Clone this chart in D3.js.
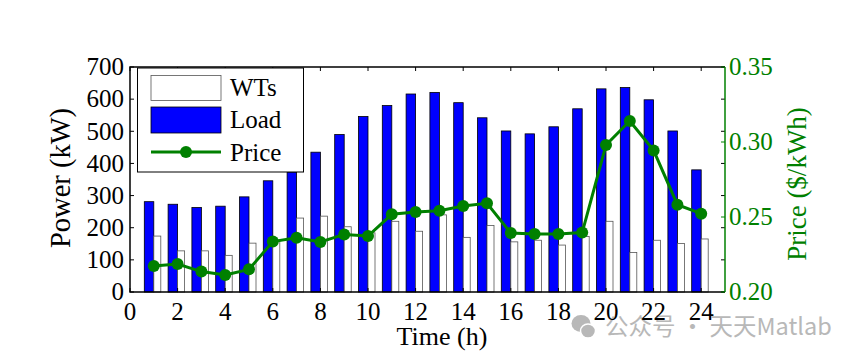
<!DOCTYPE html>
<html>
<head>
<meta charset="utf-8">
<script src="https://cdn.jsdelivr.net/npm/d3@7"></script>
<style>
  body { margin: 0; background: #fff; }
  svg text { font-family: "Liberation Serif", "Times New Roman", serif; }
</style>
</head>
<body>
<div id="chart"></div>
<script>
const hours = [1,2,3,4,5,6,7,8,9,10,11,12,13,14,15,16,17,18,19,20,21,22,23,24];
const load = [281,273,263,267,296,346,373,435,490,546,580,616,621,589,542,501,492,514,570,632,636,598,501,380];
const wts = [174,128,128,114,152,160,230,236,203,184,220,189,240,170,207,156,161,146,173,220,123,161,151,165];
const price = [0.2173,0.2187,0.2136,0.2113,0.2151,0.2336,0.2362,0.2333,0.2384,0.2373,0.2518,0.2533,
               0.2542,0.2573,0.2591,0.2393,0.2387,0.2387,0.2396,0.2980,0.3140,0.2944,0.2582,0.2522];
const xTicks = [0,2,4,6,8,10,12,14,16,18,20,22,24];
const yTicks = [0,100,200,300,400,500,600,700];
const pTicks = [0.20,0.25,0.30,0.35];

const W = 856, H = 361;
const pL = 130, pR = 725, pT = 67, pB = 292;
const green = '#008000';

function draw() {
  const svg = d3.select('#chart').append('svg')
    .attr('width', W)
    .attr('height', H);

  const x = d3.scaleLinear().domain([0, 25]).range([pL, pR]);
  const y = d3.scaleLinear().domain([0, 700]).range([pB, pT]);
  const yp = d3.scaleLinear().domain([0.20, 0.35]).range([pB, pT]);

  // watermark (under the tick labels)
  const wm = svg.append('g').attr('fill', '#b8b8b8');
  wm.append('ellipse').attr('cx', 581).attr('cy', 323.5).attr('rx', 9.5).attr('ry', 8.5);
  wm.append('ellipse').attr('cx', 588).attr('cy', 331).attr('rx', 7.5).attr('ry', 7)
    .attr('stroke', '#fff').attr('stroke-width', 1.5);
  wm.append('text').attr('x', 605).attr('y', 335)
    .style('font-family', '"Noto Sans CJK SC", "Noto Sans", sans-serif')
    .attr('font-size', 23.5)
    .text('公众号 · 天天Matlab');

  // bars
  svg.selectAll('rect.load').data(hours).join('rect')
     .attr('class', 'load')
     .attr('x', (d) => x(d) - 9.5)
     .attr('y', (d, i) => y(load[i]))
     .attr('width', 9.5)
     .attr('height', (d, i) => pB - y(load[i]))
     .attr('fill', '#0000ff')
     .attr('stroke', '#000')
     .attr('stroke-width', 0.8);

  svg.selectAll('rect.wts').data(hours).join('rect')
     .attr('class', 'wts')
     .attr('x', (d) => x(d))
     .attr('y', (d, i) => y(wts[i]))
     .attr('width', 7)
     .attr('height', (d, i) => pB - y(wts[i]))
     .attr('fill', '#fff')
     .attr('stroke', '#555')
     .attr('stroke-width', 0.8);

  // price line
  const line = d3.line().x((d) => x(d)).y((d, i) => yp(price[i]));
  svg.append('path').datum(hours)
     .attr('d', line)
     .attr('fill', 'none')
     .attr('stroke', green)
     .attr('stroke-width', 3);
  svg.selectAll('circle.p').data(hours).join('circle')
     .attr('class', 'p')
     .attr('cx', (d) => x(d))
     .attr('cy', (d, i) => yp(price[i]))
     .attr('r', 6)
     .attr('fill', green);

  // box + ticks
  const g = svg.append('g').attr('fill', 'none').attr('stroke', '#000').attr('stroke-width', 1);
  g.append('path').attr('d', `M${pR},${pT}H${pL}V${pB}H${pR}`).attr('stroke-width', 1.5);
  svg.append('line').attr('x1', pR).attr('x2', pR).attr('y1', pT).attr('y2', pB)
     .attr('stroke', green).attr('stroke-width', 1.5);

  xTicks.forEach((t) => {
    g.append('line').attr('x1', x(t)).attr('x2', x(t)).attr('y1', pB).attr('y2', pB - 4);
    g.append('line').attr('x1', x(t)).attr('x2', x(t)).attr('y1', pT).attr('y2', pT + 4);
  });
  yTicks.forEach((t) => {
    g.append('line').attr('x1', pL).attr('x2', pL + 4).attr('y1', y(t)).attr('y2', y(t));
    g.append('line').attr('x1', pR).attr('x2', pR - 4).attr('y1', y(t)).attr('y2', y(t));
  });
  pTicks.forEach((t) => {
    svg.append('line').attr('x1', pR).attr('x2', pR - 4).attr('y1', yp(t)).attr('y2', yp(t))
       .attr('stroke', green).attr('stroke-width', 1);
  });

  // tick labels
  svg.selectAll('text.xt').data(xTicks).join('text')
     .attr('class', 'xt')
     .attr('x', (d) => x(d)).attr('y', 320)
     .attr('text-anchor', 'middle').attr('font-size', 25)
     .text((d) => d);
  svg.selectAll('text.yt').data(yTicks).join('text')
     .attr('class', 'yt')
     .attr('x', 124).attr('y', (d) => y(d)).attr('dy', '0.33em')
     .attr('text-anchor', 'end').attr('font-size', 25)
     .text((d) => d);
  svg.selectAll('text.pt').data(pTicks).join('text')
     .attr('class', 'pt')
     .attr('x', 729).attr('y', (d) => yp(d)).attr('dy', '0.33em')
     .attr('font-size', 25).attr('fill', green)
     .text((d) => d3.format('.2f')(d));

  // axis titles
  svg.append('text').attr('x', 442).attr('y', 344.5)
     .attr('text-anchor', 'middle').attr('font-size', 26).text('Time (h)');
  svg.append('text').attr('transform', 'translate(70,178) rotate(-90)')
     .attr('text-anchor', 'middle').attr('font-size', 28.5).text('Power (kW)');
  svg.append('text').attr('transform', 'translate(806,184) rotate(-90)')
     .attr('text-anchor', 'middle').attr('font-size', 27).attr('fill', green).text('Price ($/kWh)');

  // legend
  const lg = svg.append('g');
  lg.append('rect').attr('x', 137.5).attr('y', 68).attr('width', 166).attr('height', 104)
    .attr('fill', '#fff').attr('stroke', '#000').attr('stroke-width', 1);
  lg.append('rect').attr('x', 151).attr('y', 75.5).attr('width', 70).attr('height', 25)
    .attr('fill', '#fff').attr('stroke', '#555').attr('stroke-width', 0.8);
  lg.append('rect').attr('x', 151).attr('y', 107).attr('width', 70).attr('height', 26)
    .attr('fill', '#0000ff').attr('stroke', '#000').attr('stroke-width', 0.8);
  lg.append('line').attr('x1', 151).attr('x2', 221).attr('y1', 152).attr('y2', 152)
    .attr('stroke', green).attr('stroke-width', 3);
  lg.append('circle').attr('cx', 186).attr('cy', 152).attr('r', 6).attr('fill', green);
  [['WTs', 88], ['Load', 120], ['Price', 153]].forEach(([t, ty]) => {
    lg.append('text').attr('x', 230).attr('y', ty).attr('dy', '0.33em')
      .attr('font-size', 25).text(t);
  });
}

draw();
</script>
</body>
</html>
